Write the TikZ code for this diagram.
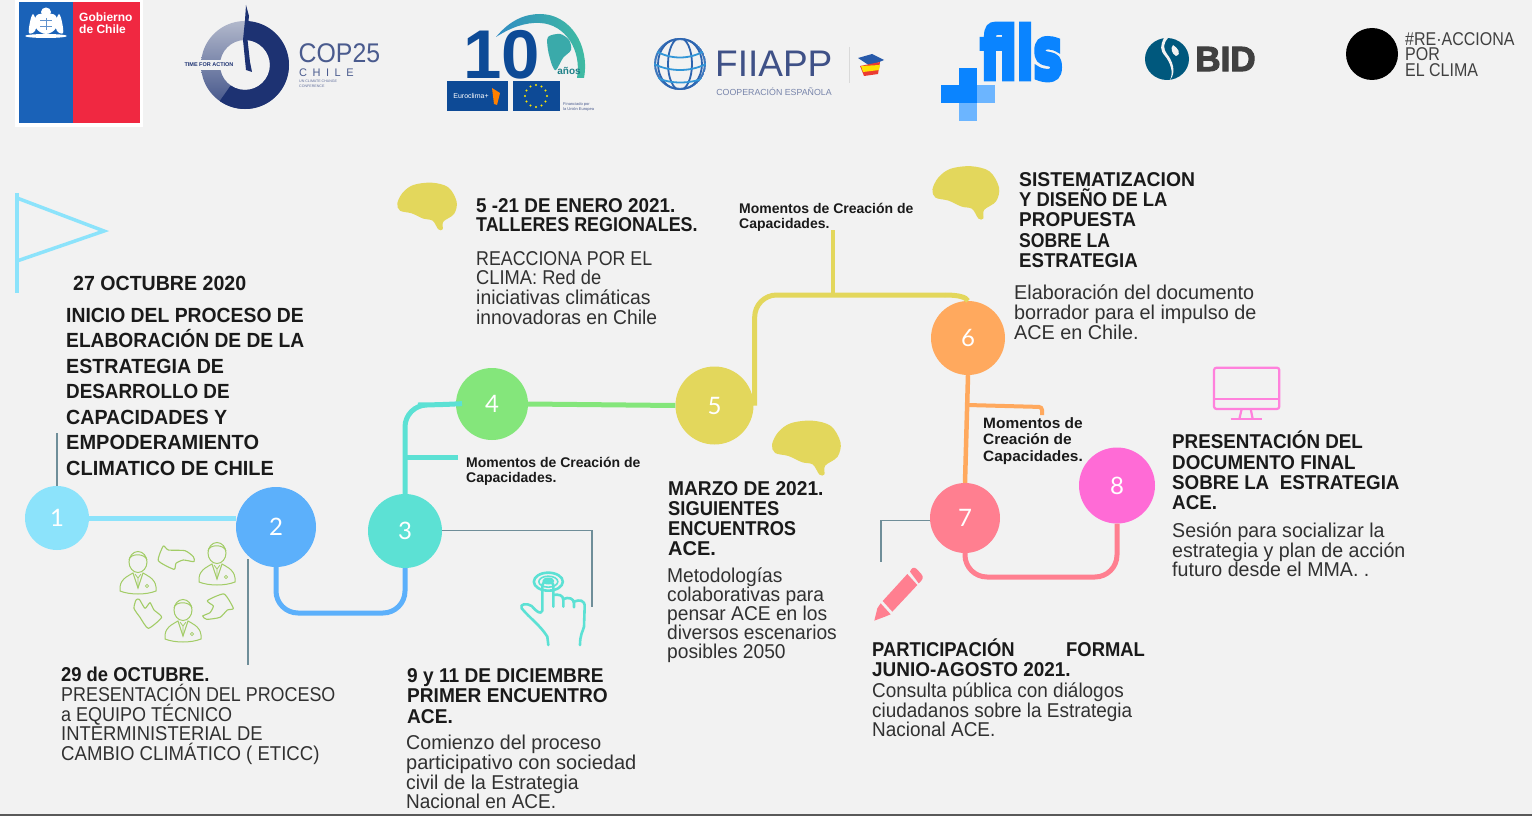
\documentclass[tikz,border=0pt]{standalone}
\usepackage{graphicx}
\usepackage{fontspec}
\setmainfont{Liberation Sans}
\newfontfamily\numfont{Lato}
\newfontfamily\fatfont[FakeBold=7]{DejaVu Sans Bold}
\newfontfamily\bidfont[FakeBold=3]{Liberation Sans Bold}
\usetikzlibrary{calc,patterns}
\newcommand\lsc[2]{\scalebox{#1}[1]{#2}}
\definecolor{bg}{HTML}{F2F2F2}
\definecolor{cA}{HTML}{8CE3FB}
\definecolor{cB}{HTML}{5CB0FB}
\definecolor{cC}{HTML}{5CE1D4}
\definecolor{cD}{HTML}{84E67B}
\definecolor{cE}{HTML}{E3D75C}
\definecolor{cF}{HTML}{FFA95E}
\definecolor{cG}{HTML}{FF7F90}
\definecolor{cH}{HTML}{FF6BD6}
\definecolor{thinl}{HTML}{6F8E99}
\definecolor{txt}{HTML}{1A1A1A}
\definecolor{navy}{HTML}{1D3272}
\definecolor{eu}{HTML}{0D4A96}
\definecolor{fblue}{HTML}{0A84FF}
\definecolor{leaf}{HTML}{A2CC66}
\definecolor{gobB}{HTML}{1A62B8}
\definecolor{gobR}{HTML}{F02841}
\definecolor{arcL}{HTML}{308CC3}
\definecolor{arcR}{HTML}{40BEA0}
\definecolor{saC}{HTML}{3AAAAA}
\definecolor{anoC}{HTML}{1E8088}
\definecolor{glA}{HTML}{3E78BE}
\definecolor{glB}{HTML}{2D64AF}
\definecolor{glC}{HTML}{3296D7}
\definecolor{flB}{HTML}{285AAA}
\definecolor{flR}{HTML}{EB3C32}
\definecolor{bidC}{HTML}{00587D}
\tikzset{
 num/.style={circle,inner sep=0pt,text=white,font=\numfont\fontsize{24}{24}\selectfont},
 ttl/.style={font=\bfseries\fontsize{20}{20}\selectfont,text=txt,align=left,inner sep=0pt,anchor=north west},
 body/.style={font=\fontsize{20}{19.7}\selectfont,text=txt!90!white,align=left,inner sep=0pt,anchor=north west},
 mom/.style={font=\bfseries\fontsize{14}{15}\selectfont,text=txt,align=left,inner sep=0pt,anchor=north west},
 sqz/.style={xscale=#1,transform shape},
 lnk/.style={line width=5pt,rounded corners=22pt},
 thin gray/.style={thinl,line width=1.3pt},
 logo/.style={inner sep=0pt,anchor=center},
 brain/.pic={\fill[cE] plot[smooth cycle,tension=.55] coordinates{(52,100)(68,68)(100,45)(155,38)(205,52)(230,95)(222,132)(190,155)(188,178)(175,178)(158,152)(130,146)(95,130)(60,122)};},
 person/.pic={
  \draw[leaf,line width=1pt] (0,0) ellipse (9pt and 10.5pt);
  \draw[leaf,line width=1pt] (-9,-2) .. controls (-8,-9) and (7,-9) .. (9,-2);
  \draw[leaf,line width=1pt] (-18,25) .. controls (-17,16) and (-8,13) .. (-5,11) -- (0,26) -- (5,11) .. controls (8,13) and (17,16) .. (18,25) -- (18,29) .. controls (8,33) and (-8,33) .. (-18,29) -- cycle;
  \draw[leaf,line width=.8pt] (-3,12) -- (0,16) -- (3,12) (0,16) -- (0,26);
  \draw[leaf,line width=.8pt] (9,24) circle (1.6pt);
 },
}
\begin{document}
\begin{tikzpicture}[x=1pt,y=-1pt]
\useasboundingbox (0,0) rectangle (1532,816);
\fill[bg] (0,0) rectangle (1532,816);
\fill[gray!70!black] (0,814.3) rectangle (1532,816);

% ---------- logos
\fill[white] (15,0) rectangle (143,127);
\fill[gobB] (19,2) rectangle (73,123);
\fill[gobR] (73,2) rectangle (140,123);
\node[logo,anchor=west,text=white,font=\bfseries\fontsize{12}{12.5}\selectfont,align=left] (gob) at (79,23) {Gobierno\\de Chile};
\fill[white] (46,12) ellipse (5pt and 4.5pt);
\fill[white] plot[smooth cycle,tension=.6] coordinates{(37,15)(55,15)(56,28)(46,34)(36,28)};
\fill[white] plot[smooth cycle,tension=.6] coordinates{(33,14)(36,22)(35,31)(29,33)(30,22)};
\fill[white] plot[smooth cycle,tension=.6] coordinates{(59,14)(56,22)(57,31)(63,33)(62,22)};
\fill[white] (46,36) ellipse (21pt and 2pt);
\draw[gobB!70!white,line width=.7pt] (40,20) -- (52,20) (40,26) -- (52,26) (46,18) -- (46,30);

% COP25
\shade[top color=navy!30!bg,bottom color=navy!85,even odd rule] (245,65) circle (44pt) (245,65) circle (25pt);
\fill[navy] (245,21) arc (90:-125:44pt) -- ($(245,65)+(-125:25pt)$) arc (-125:90:25pt) -- cycle;
\fill[bg] (181,60) rectangle (235,70);
\fill[navy] (246,5) -- (249,16) -- (247,35) -- (250,62) -- (252,72) -- (246,70) -- (243,40) -- (245,20) -- cycle;
\node[logo,text=navy,font=\bfseries\fontsize{5.5}{5.5}\selectfont] (tfa) at (209,65) {TIME FOR ACTION};
\node[logo,anchor=west,text=navy!80!white,font=\fontsize{27}{27}\selectfont,sqz=.92] (cop) at (298.5,53) {COP25};
\node[logo,anchor=west,text=navy!80!white,font=\fontsize{11}{11}\selectfont] (chl) at (299,72.5) {C\,\,\,H\,\,\,I\,\,\,L\,\,\,E};
\node[logo,anchor=west,text=navy!70!white,font=\fontsize{3.6}{5}\selectfont,align=left] (unc) at (299,84) {UN CLIMATE CHANGE\\CONFERENCE};

% 10 anos
\shade[left color=arcL,right color=arcR] (496,37) .. controls (510,20) and (525,14) .. (540,14) .. controls (570,14) and (590,45) .. (584,78) -- (577,78) .. controls (582,50) and (565,24) .. (540,23) .. controls (525,22) and (510,28) .. (496,37) -- cycle;
\fill[saC] plot[smooth cycle,tension=.5] coordinates{(548,37)(560,34)(569,40)(571,50)(563,58)(556,70)(552,65)(548,50)};
\node[logo,text=eu,font=\bfseries\fontsize{69}{69}\selectfont] (ten) at (502,55) {10};
\node[logo,text=anoC,font=\bfseries\fontsize{10}{10}\selectfont] (anos) at (569,71) {años};
\fill[eu] (447,81) rectangle (508,111);
\fill[eu] (513,81) rectangle (560,111);
\node[logo,text=white,font=\fontsize{7}{7}\selectfont] (eurc) at (471,96) {Euroclima+};
\fill[orange] (492,88) -- (500,93) -- (497,105) -- (494,104) -- cycle;
\foreach \a in {0,30,...,330}{\fill[yellow!90!orange] ($(536,96)+(\a:11pt)$) circle (1.2pt);}
\node[logo,anchor=west,text=navy!80!white,font=\fontsize{4}{5}\selectfont,align=left] (fin) at (563,107) {Financiado por\\la Unión Europea};

% FIIAPP
\begin{scope}
\clip (680,64) circle (26pt);
\draw[glA,line width=2.2pt] (680,64) circle (25pt);
\draw[glB,line width=1.8pt] (680,64) ellipse (12pt and 26pt) (680,64) ellipse (22pt and 26pt);
\draw[glC,line width=1.8pt] (654,50) .. controls (670,60) and (690,60) .. (706,50) (654,64) .. controls (670,72) and (690,72) .. (706,64) (658,78) .. controls (670,84) and (690,84) .. (704,78);
\end{scope}
\node[logo,anchor=west,text=navy!85!white,font=\fontsize{37}{37}\selectfont] (fia) at (715,64) {FIIAPP};
\draw[gray!30,line width=.7pt] (849,47) -- (849,83);
\fill[flB] (858,58) -- (872,54) -- (884,60) -- (870,66) -- cycle;
\fill[flR] (860,66) -- (880,62) -- (878,74) -- (864,76) -- cycle;
\fill[yellow!85!orange] (861,66) -- (880,65) -- (879,70) -- (863,72) -- cycle;
\node[logo,text=navy!60!white,font=\fontsize{8.8}{8.8}\selectfont] (coo) at (774,92) {COOPERACIÓN ESPAÑOLA};

% fiis
\node[logo,text=fblue,font=\fatfont\fontsize{72}{72}\selectfont,sqz=.68] (fis) at (1021.5,52) {fiis};
\fill[fblue] (941,85) rectangle (977,103);
\fill[fblue] (959,68) rectangle (977,103);
\fill[fblue!60!white] (977,85) rectangle (995,103);
\fill[fblue!60!white] (959,103) rectangle (977,121);

% BID
\fill[bidC] (1167,59) ellipse (22pt and 21pt);
\fill[bg] (1164,38) .. controls (1160,46) and (1160,50) .. (1165,56) .. controls (1170,62) and (1174,72) .. (1170,80) .. controls (1177,72) and (1172,60) .. (1167,54) .. controls (1163,48) and (1163,44) .. (1168,38) -- cycle;
\fill[bg] (1173,45) .. controls (1178,48) and (1182,54) .. (1176,56) .. controls (1172,54) and (1170,48) .. (1173,45);
\node[logo,text=black!75,font=\bidfont\fontsize{35}{35}\selectfont] (bid) at (1225.5,59) {BID};

% reacciona
\fill[black] (1372,54) ellipse (26pt and 26pt);
\node[logo,anchor=north west,text=black!75,font=\fontsize{18.5}{15.5}\selectfont,align=left,sqz=.865] (rea) at (1405,32) {\#RE·ACCIONA\\POR\\EL CLIMA};

% flag
\coordinate (flagTop) at (17,193);
\coordinate (flagBot) at (17,293);
\draw[cA,line width=3.5pt] (flagTop) -- (flagBot);
\draw[cA,line width=3.5pt,line join=miter] (17,198) -- (104,231) -- (17,261);

% ---------- timeline circles
\node[num,fill=cA,minimum size=64pt] (n1) at (57,518) {1};
\node[num,fill=cB,minimum size=80pt] (n2) at (276,527) {2};
\node[num,fill=cC,minimum size=74pt] (n3) at (405,531) {3};
\node[num,fill=cD,minimum size=72pt] (n4) at (492,404) {4};
\node[num,fill=cE,minimum size=78pt] (n5) at (714.5,405.5) {5};
\node[num,fill=cF,minimum size=74pt] (n6) at (968,338) {6};
\node[num,fill=cG,minimum size=70pt] (n7) at (965,518) {7};
\node[num,fill=cH,minimum size=76pt] (n8) at (1117,485.5) {8};

% ---------- connectors
\coordinate (c23) at (340,613);
\coordinate (c34) at (440,405);
\coordinate (c56) at (860,295);
\coordinate (c78) at (1040,577);
\coordinate (b3) at (458,457.5);
\coordinate (b3s) at (404.5,457.5);
\coordinate (b5) at (833,230);
\coordinate (b5s) at (833,295);
\coordinate (b6e) at (1042,415);
\coordinate (b6k) at (1042,407);
\coordinate (b6s) at (967.5,405);
\coordinate (c6a) at (945,295);
\draw[cA,line width=5pt] (n1.east) -- (n2.west|-n1.east);
\draw[cB,lnk] (n2.south) |- (c23) -| (n3.south);
\draw[cC,lnk] (n3.north) |- (c34) -- (n4.west);
\draw[cC,line width=5pt] (b3s) -- (b3);
\draw[cD,line width=5pt] (n4.east) -- (n5.west);
\draw[cE,lnk] (n5.east) ++(1,0) |- (c56) -- (c6a);
\draw[cE,line width=5pt] (c6a) .. controls (958,295) and (966,297) .. (n6.north);
\draw[cE,line width=4pt] (b5) -- (b5s);
\draw[cF,line width=4.5pt] (n6.south) -- (n7.north);
\draw[cF,line width=4pt,rounded corners=3pt] (b6s) -- (b6k) -- (b6e);
\draw[cG,lnk] (n7.south) |- (c78) -| (n8.south);

% thin leader lines
\coordinate (t1) at (57,433);
\draw[thin gray] (t1) -- (n1.north);
\coordinate (t2) at (248,665);
\draw[thin gray] (248,559) -- (t2);
\coordinate (t3a) at (592,530.5);
\coordinate (t3b) at (592,607);
\draw[thin gray] (n3.east) ++(0,-.5) -- (t3a) -- (t3b);
\coordinate (t7a) at (881,520.5);
\coordinate (t7b) at (881,562);
\draw[thin gray] (n7.west) ++(0,2.5) -- (t7a) -- (t7b);

% ---------- icons
\pic[scale=1/3] at (380,170) {brain};
\pic[scale=.374] at (913,152) {brain};
\pic[scale=.385] at (752,406) {brain};

\begin{scope}[shift={(100,530)},scale=1/3]
\draw[leaf,line width=1.1pt,line join=round] plot[smooth cycle,tension=.35] coordinates{(190,48)(175,92)(222,118)(228,100)(250,90)(282,95)(280,80)(255,62)(205,60)};
\draw[leaf,line width=1.1pt,line join=round] plot[smooth cycle,tension=.35] coordinates{(372,192)(322,212)(340,228)(330,248)(308,258)(320,268)(360,262)(382,240)(400,235)};
\draw[leaf,line width=1.1pt,line join=round] plot[smooth cycle,tension=.35] coordinates{(108,210)(102,235)(120,262)(145,295)(185,262)(162,240)(150,218)(135,235)(118,208)};
\end{scope}
\pic at (138,562) {person};
\pic at (217,553) {person};
\pic at (183,610) {person};

\begin{scope}[shift={(500,520)},scale=1/3,cC,line width=2.6pt,line cap=round,line join=round]
\draw (145,185) ellipse (43.5pt and 27pt);
\draw[line width=1.6pt] (145,185) ellipse (28.5pt and 16.5pt);
\fill (145,183) ellipse (18pt and 10.5pt);
\draw (145,375) -- (142,350) .. controls (120,315) and (90,295) .. (65,265) .. controls (58,252) and (80,248) .. (95,258) .. controls (110,275) and (122,285) .. (127,272) -- (127,195) .. controls (128,178) and (160,178) .. (160,195) -- (160,260);
\draw (160,225) .. controls (175,222) and (190,225) .. (190,240) -- (190,260);
\draw (190,237) .. controls (205,230) and (222,235) .. (222,250) -- (222,262);
\draw (222,245) .. controls (238,238) and (255,240) .. (254,260) -- (252,320) .. controls (248,335) and (240,345) .. (240,375);
\end{scope}

\begin{scope}[shift={(860,500)},scale=1/3]
\fill[cG] (150,215) .. controls (155,202) and (162,200) .. (170,207) -- (184,222) .. controls (192,232) and (188,240) .. (176,250) -- cycle;
\fill[cG] (142,222) -- (172,255) -- (97,335) -- (68,303) -- cycle;
\fill[cG] (62,310) -- (92,343) -- (75,350) -- (43,362) -- (52,325) -- cycle;
\end{scope}

\begin{scope}[shift={(1200,355)},scale=1/3,cH!85!white,line width=2.2pt]
\draw[rounded corners=2.5pt] (42,38) rectangle (238,162);
\draw (42,133) -- (238,133);
\draw (125,162) -- (118,192) (152,162) -- (158,192);
\draw (92,192) -- (185,192);
\end{scope}

% ---------- texts
\node[ttl,font=\bfseries\fontsize{20.5}{20.5}\selectfont,sqz=.955] (d1) at (73,276) {27 OCTUBRE 2020};
\node[ttl,font=\bfseries\fontsize{20.5}{25.5}\selectfont] (t1b) at (66,307.5) {\lsc{.944}{INICIO DEL PROCESO DE}\\\lsc{.937}{ELABORACIÓN DE DE LA}\\\lsc{.958}{ESTRATEGIA DE}\\\lsc{.92}{DESARROLLO DE}\\\lsc{.958}{CAPACIDADES Y}\\\lsc{.975}{EMPODERAMIENTO}\\\lsc{.972}{CLIMATICO DE CHILE}};
\node[ttl,sqz=.92] (d2) at (61,667) {29 de OCTUBRE.};
\node[body] (t2b) at (61,684) {\lsc{.895}{PRESENTACIÓN DEL PROCESO}\\\lsc{.9}{a EQUIPO TÉCNICO}\\\lsc{.92}{INTERMINISTERIAL DE}\\\lsc{.93}{CAMBIO CLIMÁTICO ( ETICC)}};
\node[ttl,font=\bfseries\fontsize{20}{20.5}\selectfont,sqz=.955] (d3) at (407,668) {9 y 11 DE DICIEMBRE\\PRIMER ENCUENTRO\\ACE.};
\node[body] (t3b) at (406,735) {\lsc{.98}{Comienzo del proceso}\\participativo con sociedad\\\lsc{.97}{civil de la Estrategia}\\\lsc{.95}{Nacional en ACE.}};
\node[ttl,font=\bfseries\fontsize{20}{19.2}\selectfont] (d4) at (476,198) {\lsc{.943}{5 -21 DE ENERO 2021.}\\\lsc{.895}{TALLERES REGIONALES.}};
\node[body] (t4b) at (476,251) {\lsc{.89}{REACCIONA POR EL}\\\lsc{.915}{CLIMA: Red de}\\\lsc{.968}{iniciativas climáticas}\\\lsc{.963}{innovadoras en Chile}};
\node[mom] (m4) at (466,457.5) {Momentos de Creación de\\Capacidades.};
\node[mom] (m5) at (739,203.5) {Momentos de Creación de\\Capacidades.};
\node[ttl,font=\bfseries\fontsize{20}{20.3}\selectfont] (d6) at (1019,172) {\lsc{.967}{SISTEMATIZACION}\\\lsc{.92}{Y DISEÑO DE LA}\\\lsc{.95}{PROPUESTA}\\\lsc{.88}{SOBRE LA}\\\lsc{.93}{ESTRATEGIA}};
\node[body,font=\fontsize{20}{20}\selectfont,sqz=.99] (t6b) at (1014,285) {Elaboración del documento\\borrador para el impulso de\\ACE en Chile.};
\node[mom,font=\bfseries\fontsize{15}{16.5}\selectfont,sqz=1.03] (m6) at (983,417) {Momentos de\\Creación de\\Capacidades.};
\node[ttl,font=\bfseries\fontsize{20}{20.3}\selectfont,sqz=.94] (d8) at (1172,431) {PRESENTACIÓN DEL\\DOCUMENTO FINAL\\SOBRE LA\ \ ESTRATEGIA\\ACE.};
\node[body,sqz=.98] (t8b) at (1172,522.5) {Sesión para socializar la\\estrategia y plan de acción\\futuro desde el MMA. .};
\node[ttl,font=\bfseries\fontsize{20}{20}\selectfont] (d5) at (668,481) {\lsc{.957}{MARZO DE 2021.}\\\lsc{.917}{SIGUIENTES}\\\lsc{.914}{ENCUENTROS}\\ACE.};
\node[body,font=\fontsize{20}{19}\selectfont,sqz=.96] (t5b) at (667,568) {Metodologías\\colaborativas para\\pensar ACE en los\\diversos escenarios\\posibles 2050};
\node[ttl,sqz=.92] (d7a) at (872,639) {PARTICIPACIÓN};
\node[ttl,sqz=.92] (d7c) at (1066,642) {FORMAL};
\node[ttl,sqz=.947] (d7b) at (872,662) {JUNIO-AGOSTO 2021.};
\node[body,sqz=.947] (t7b) at (872,682.5) {Consulta pública con diálogos\\ciudadanos sobre la Estrategia\\Nacional ACE.};
\end{tikzpicture}
\end{document}
